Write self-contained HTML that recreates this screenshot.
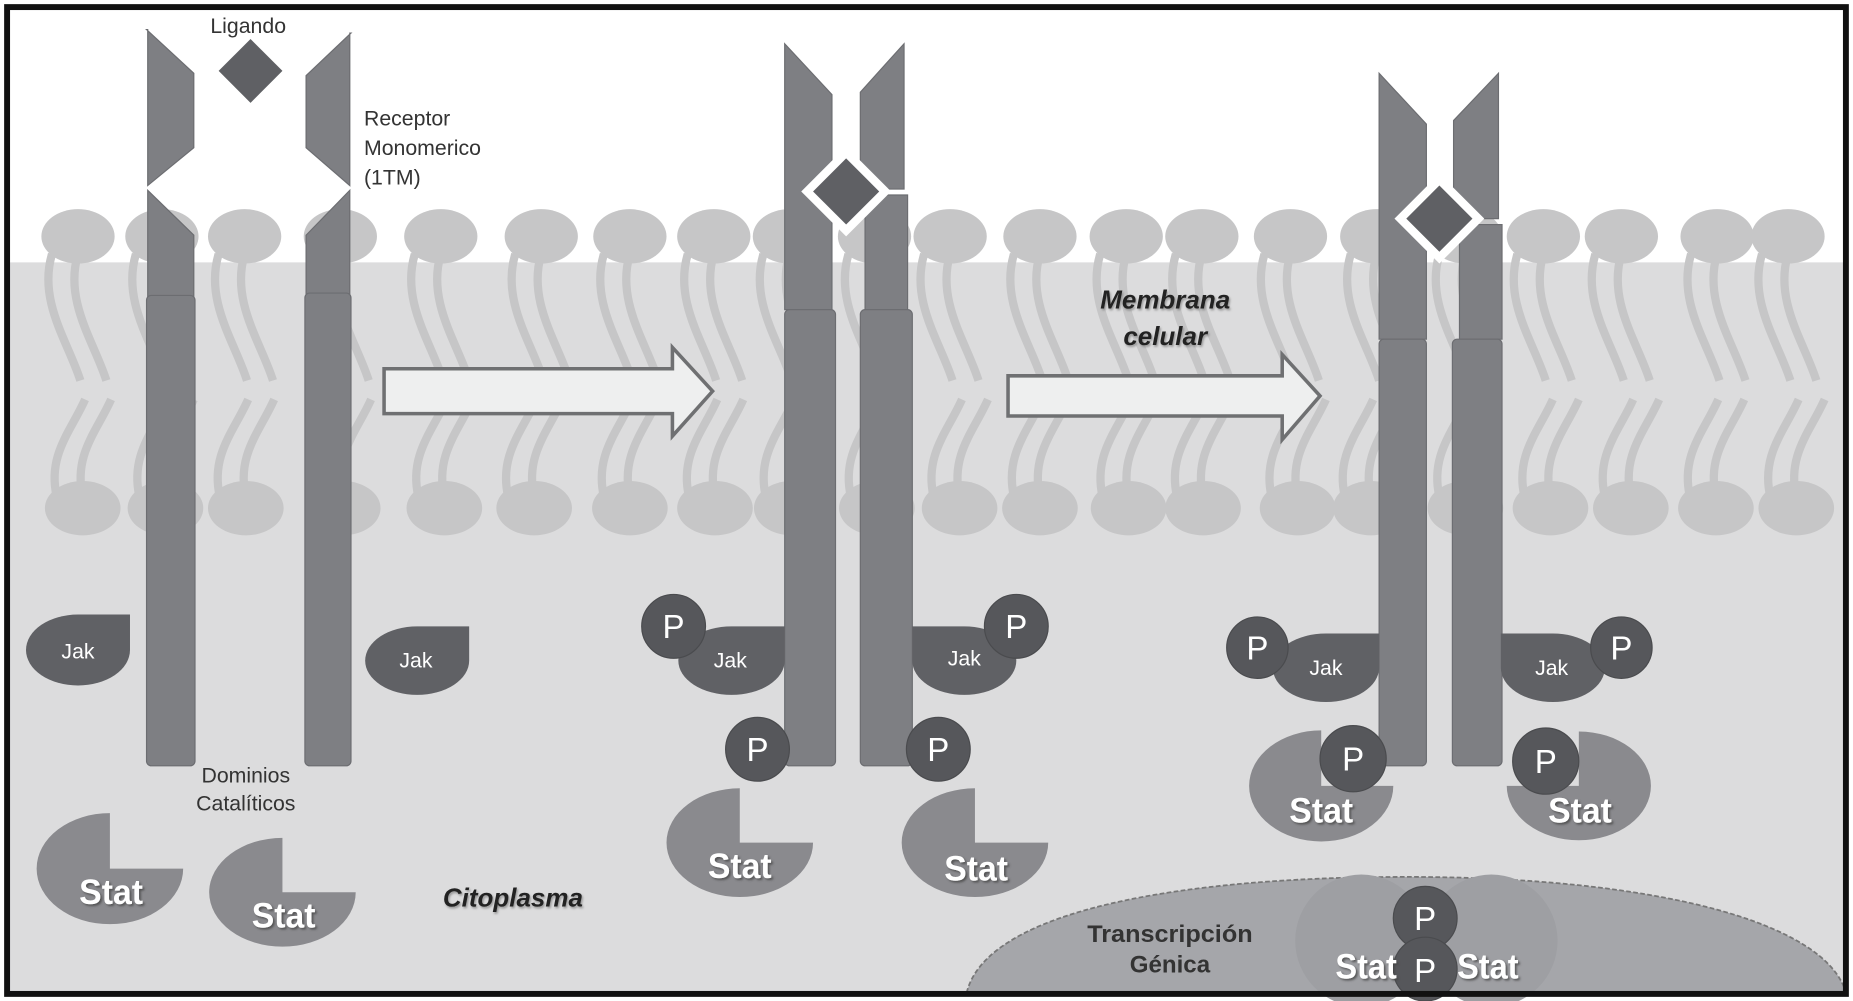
<!DOCTYPE html>
<html><head><meta charset="utf-8"><style>
html,body{margin:0;padding:0;background:#fff;}
svg{display:block;}
text{font-family:"Liberation Sans",sans-serif;}
</style></head><body>
<svg id="s" width="1853" height="1001" viewBox="0 0 1568 847" preserveAspectRatio="none" xmlns="http://www.w3.org/2000/svg">
<defs>
<filter id="sh" x="-20%" y="-20%" width="140%" height="140%"><feDropShadow dx="1.5" dy="1.5" stdDeviation="1" flood-color="#444" flood-opacity="0.8"/></filter>
<filter id="sh2" x="-20%" y="-20%" width="140%" height="140%"><feDropShadow dx="1" dy="1.5" stdDeviation="1" flood-color="#777" flood-opacity="0.7"/></filter>
</defs>
<rect x="0" y="0" width="1568" height="847" fill="#fff"/>
<rect x="6" y="222" width="1556" height="620" fill="#dcdcdd"/>
<g id="lip" fill="#c6c6c7" stroke="#c6c6c7"></g>

<!-- Receptor 1 -->
<g fill="#7e7f83" stroke="#6c6d71" stroke-width="1">
<polygon points="124,25 164,62 164,125 125,157 125,25"/>
<polygon points="125,161 164,199 164,262 125,262"/>
<rect x="124" y="250" width="41" height="398" rx="4"/>
<polygon points="297,28 259,64 259,125 296,157 296,28"/>
<polygon points="296,161 259,199 259,258 296,258"/>
<rect x="258" y="248" width="39" height="400" rx="4"/>
</g>
<polygon points="212,33 239,60 212,87 185,60" fill="#5f6064"/>

<!-- Receptor 2 -->
<g fill="#7e7f83" stroke="#6c6d71" stroke-width="1">
<polygon points="664,37 704,80 704,262 664,262"/>
<polygon points="765,37 728,78 728,160 765,160"/>
<polygon points="732,165 768,165 768,262 732,262"/>
<rect x="664" y="262" width="43" height="386" rx="4"/>
<rect x="728" y="262" width="44" height="386" rx="4"/>
</g>
<polygon points="716,124 754,162 716,200 678,162" fill="#fff"/>
<polygon points="716,134 744,162 716,190 688,162" fill="#5f6064"/>

<!-- Receptor 3 -->
<g fill="#7e7f83" stroke="#6c6d71" stroke-width="1">
<polygon points="1167,62 1207,105 1207,287 1167,287"/>
<polygon points="1268,62 1230,102 1230,185 1268,185"/>
<polygon points="1235,190 1271,190 1271,287 1235,287"/>
<rect x="1167" y="287" width="40" height="361" rx="4"/>
<rect x="1229" y="287" width="42" height="361" rx="4"/>
</g>
<polygon points="1218,147 1256,185 1218,223 1180,185" fill="#fff"/>
<polygon points="1218,157 1246,185 1218,213 1190,185" fill="#5f6064"/>

<!-- Arrows -->
<polygon points="325,312 569,312 569,294 603,331 569,369 569,350 325,350" fill="#eeefef" stroke="#6f7072" stroke-width="3"/>
<polygon points="853,318 1085,318 1085,300 1117,335 1085,372 1085,352 853,352" fill="#eeefef" stroke="#6f7072" stroke-width="3"/>

<!-- Labels -->
<g fill="#333" font-size="18">
<text x="178" y="28">Ligando</text>
<text x="308" y="106">Receptor</text>
<text x="308" y="131">Monomerico</text>
<text x="308" y="156">(1TM)</text>
<text x="208" y="662" text-anchor="middle">Dominios</text>
<text x="208" y="686" text-anchor="middle">Catalíticos</text>
</g>
<g fill="#222" font-size="22" font-weight="bold" font-style="italic" filter="url(#sh2)" text-anchor="middle">
<text x="986" y="261">Membrana</text>
<text x="986" y="292">celular</text>
<text x="434" y="767">Citoplasma</text>
</g>

<!-- Jak -->
<g fill="#606165">
<path d="M110,520 L110,550 A44,30 0 1 1 66,520 Z"/>
<path d="M397,530 L397,559 A44,29 0 1 1 353,530 Z"/>
<path d="M664,530 L664,559 A45,29 0 1 1 619,530 Z"/>
<path d="M772,530 L772,559 A44,29 0 1 0 816,530 Z"/>
<path d="M1167,536 L1167,565 A45,29 0 1 1 1122,536 Z"/>
<path d="M1270,536 L1270,565 A44,29 0 1 0 1314,536 Z"/>
</g>
<g fill="#fff" font-size="18" text-anchor="middle">
<text x="66" y="557">Jak</text>
<text x="352" y="565">Jak</text>
<text x="618" y="565">Jak</text>
<text x="816" y="563">Jak</text>
<text x="1122" y="571">Jak</text>
<text x="1313" y="571">Jak</text>
</g>

<!-- Stat -->
<g fill="#8a8a8e">
<path d="M93,735 L155,735 A62,47 0 1 1 93,688 Z"/>
<path d="M239,755 L301,755 A62,46 0 1 1 239,709 Z"/>
<path d="M626,713 L688,713 A62,46 0 1 1 626,667 Z"/>
<path d="M825,713 L887,713 A62,46 0 1 1 825,667 Z"/>
<path d="M1118,665 L1179,665 A61,47 0 1 1 1118,618 Z"/>
<path d="M1336,665 L1275,665 A61,46 0 1 0 1336,619 Z"/>
</g>

<!-- Nucleus -->
<path d="M818,840 C835,770 1000,742 1190,742 C1400,742 1545,780 1562,840 Z" fill="#a5a6aa" stroke="#777" stroke-width="1.5" stroke-dasharray="4,2"/>
<circle cx="1152" cy="796" r="56" fill="#9e9fa3"/>
<circle cx="1262" cy="796" r="56" fill="#9e9fa3"/>

<!-- P circles -->
<g fill="#56575b" stroke="#4a4b4e" stroke-width="1">
<circle cx="570" cy="530" r="27"/>
<circle cx="860" cy="530" r="27"/>
<circle cx="1064" cy="548" r="26"/>
<circle cx="1372" cy="548" r="26"/>
<circle cx="641" cy="634" r="27"/>
<circle cx="794" cy="634" r="27"/>
<circle cx="1145" cy="642" r="28"/>
<circle cx="1308" cy="644" r="28"/>
<circle cx="1206" cy="777" r="27"/>
<circle cx="1206" cy="820" r="27"/>
</g>
<g fill="#fff" font-size="28" text-anchor="middle">
<text x="570" y="540">P</text>
<text x="860" y="540">P</text>
<text x="1064" y="558">P</text>
<text x="1372" y="558">P</text>
<text x="641" y="644">P</text>
<text x="794" y="644">P</text>
<text x="1145" y="652">P</text>
<text x="1308" y="654">P</text>
<text x="1206" y="787">P</text>
<text x="1206" y="831">P</text>
</g>
<g fill="#fff" font-size="30" font-weight="bold" text-anchor="middle" filter="url(#sh)">
<text x="94" y="765" textLength="54" lengthAdjust="spacingAndGlyphs">Stat</text>
<text x="240" y="785" textLength="54" lengthAdjust="spacingAndGlyphs">Stat</text>
<text x="626" y="743" textLength="54" lengthAdjust="spacingAndGlyphs">Stat</text>
<text x="826" y="745" textLength="54" lengthAdjust="spacingAndGlyphs">Stat</text>
<text x="1118" y="696" textLength="54" lengthAdjust="spacingAndGlyphs">Stat</text>
<text x="1337" y="696" textLength="54" lengthAdjust="spacingAndGlyphs">Stat</text>
<text x="1156" y="828" textLength="52" lengthAdjust="spacingAndGlyphs">Stat</text>
<text x="1259" y="828" textLength="52" lengthAdjust="spacingAndGlyphs">Stat</text>
</g>
<g fill="#333" font-size="20" font-weight="bold" text-anchor="middle">
<text x="990" y="797" textLength="140" lengthAdjust="spacingAndGlyphs">Transcripción</text>
<text x="990" y="823" textLength="68" lengthAdjust="spacingAndGlyphs">Génica</text>
</g>

<!-- frame -->
<rect x="6" y="6" width="1556" height="835" fill="none" stroke="#111" stroke-width="5"/>
</svg>
<script>
(function(){
var g=document.getElementById('lip');var ns='http://www.w3.org/2000/svg';
var top=[66,137,207,288,373,458,533,604,668,740,804,880,953,1017,1092,1165,1240,1306,1372,1453,1513];
var bot=[70,140,208,290,376,452,533,605,670,742,812,880,955,1018,1098,1160,1240,1312,1380,1452,1520];
function el(t,a){var e=document.createElementNS(ns,t);for(var k in a)e.setAttribute(k,a[k]);g.appendChild(e);}
top.forEach(function(x){
 el('path',{d:'M'+(x-22)+' 215 C'+(x-34)+' 255,'+(x-8)+' 290,'+(x+2)+' 322',fill:'none','stroke-width':7});
 el('path',{d:'M'+(x)+' 215 C'+(x-12)+' 255,'+(x+14)+' 290,'+(x+24)+' 322',fill:'none','stroke-width':7});
 el('ellipse',{cx:x,cy:200,rx:31,ry:23,stroke:'none'});
});
bot.forEach(function(x){
 el('path',{d:'M'+(x+2)+' 338 C'+(x-10)+' 365,'+(x-30)+' 385,'+(x-22)+' 420',fill:'none','stroke-width':7});
 el('path',{d:'M'+(x+24)+' 338 C'+(x+12)+' 365,'+(x-8)+' 385,'+(x)+' 420',fill:'none','stroke-width':7});
 el('ellipse',{cx:x,cy:430,rx:32,ry:23,stroke:'none'});
});
})();
</script>
</body></html>
